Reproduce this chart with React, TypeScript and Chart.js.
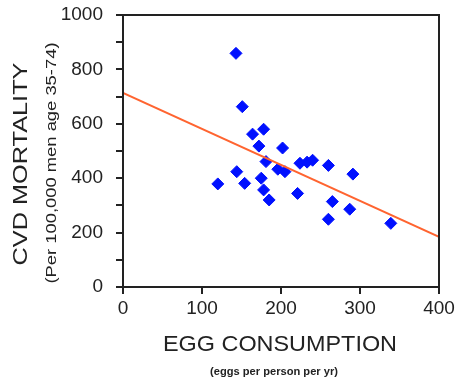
import React, { useEffect, useRef } from "react";
import { Chart, registerables } from "chart.js";

Chart.register(...registerables);

const eggX = [143, 151, 164, 178, 172, 202, 181, 224, 233, 240, 260, 291, 144, 120, 154, 175, 196, 205, 178, 185, 221, 265, 287, 260, 339];
const cvdY = [859, 663, 562, 580, 518, 511, 461, 455, 459, 466, 447, 415, 424, 379, 381, 400, 433, 424, 357, 320, 344, 314, 286, 249, 234];
const fitX = [0, 400];
const fitY = [714, 184];
const xTicks = [0, 100, 200, 300, 400];
const yLabelTicks = [0, 200, 400, 600, 800, 1000];

const yTitle = "CVD MORTALITY";
const ySub = "(Per 100,000 men age 35-74)";
const xTitle = "EGG CONSUMPTION";
const xSub = "(eggs per person per yr)";

function drawFit(ctx: CanvasRenderingContext2D, text: string, cx: number, cy: number, targetW: number, font: string, rotate: boolean) {
  ctx.save();
  ctx.translate(cx, cy);
  if (rotate) ctx.rotate(-Math.PI / 2);
  ctx.font = font;
  const w = ctx.measureText(text).width;
  ctx.scale(targetW / w, 1);
  ctx.textAlign = "center";
  ctx.textBaseline = "middle";
  ctx.fillStyle = "#222";
  ctx.fillText(text, 0, 0);
  ctx.restore();
}

const decor = {
  id: "decor",
  afterDraw(chart: any) {
    const ctx = chart.ctx as CanvasRenderingContext2D;
    const a = chart.chartArea;
    ctx.save();
    ctx.strokeStyle = "#222";
    ctx.lineWidth = 2;
    ctx.strokeRect(a.left, a.top, a.right - a.left, a.bottom - a.top);
    ctx.restore();
    drawFit(ctx, yTitle, 21, 164, 203, "21px 'Liberation Sans'", true);
    drawFit(ctx, ySub, 52, 163, 241, "15px 'Liberation Sans'", true);
    drawFit(ctx, xTitle, 280, 345, 234, "22px 'Liberation Sans'", false);
    drawFit(ctx, xSub, 274, 372, 128, "bold 10px 'Liberation Sans'", false);
  },
};

export default function App() {
  const ref = useRef<HTMLCanvasElement>(null);
  useEffect(() => {
    document.body.style.margin = "0";
    const pts = eggX.map((x, i) => ({ x, y: cvdY[i] }));
    const line = fitX.map((x, i) => ({ x, y: fitY[i] }));
    const chart = new Chart(ref.current!, {
      type: "scatter",
      data: {
        datasets: [
          {
            type: "line",
            data: line,
            borderColor: "#ff6430",
            borderWidth: 2,
            pointRadius: 0,
            fill: false,
          } as any,
          {
            data: pts,
            pointStyle: "rectRot",
            pointRadius: 6,
            backgroundColor: "#0010ff",
            borderColor: "#0010ff",
            borderWidth: 1,
          },
        ],
      },
      options: {
        animation: false,
        responsive: false,
        layout: { padding: { top: 15, right: 17, left: 0, bottom: 0 } },
        plugins: { legend: { display: false }, tooltip: { enabled: false } },
        scales: {
          x: {
            type: "linear",
            min: 0,
            max: 400,
            afterBuildTicks: (s: any) => {
              s.ticks = xTicks.map((v) => ({ value: v }));
            },
            afterFit: (s: any) => {
              s.height = 91;
              s.paddingLeft = 0;
              s.paddingRight = 0;
            },
            grid: { drawOnChartArea: false, tickLength: 7, color: "#222", lineWidth: 2 },
            border: { display: true, color: "#222", width: 2 },
            ticks: { font: { family: "'Liberation Sans'", size: 19 }, color: "#222", padding: 3, maxRotation: 0, autoSkip: false },
          },
          y: {
            type: "linear",
            min: 0,
            max: 1000,
            ticks: {
              stepSize: 100,
              font: { family: "'Liberation Sans'", size: 19 },
              color: "#222",
              padding: 13,
              autoSkip: false,
              callback: (v: any) => (yLabelTicks.includes(Number(v)) ? String(v) : ""),
            },
            afterFit: (s: any) => {
              s.width = 123;
              s.paddingTop = 0;
              s.paddingBottom = 0;
            },
            grid: { drawOnChartArea: false, tickLength: 7, color: "#222", lineWidth: 2 },
            border: { display: true, color: "#222", width: 2 },
          },
        },
      },
      plugins: [decor],
    });
    return () => chart.destroy();
  }, []);
  return <canvas ref={ref} width={456} height={378} style={{ display: "block" }} />;
}
